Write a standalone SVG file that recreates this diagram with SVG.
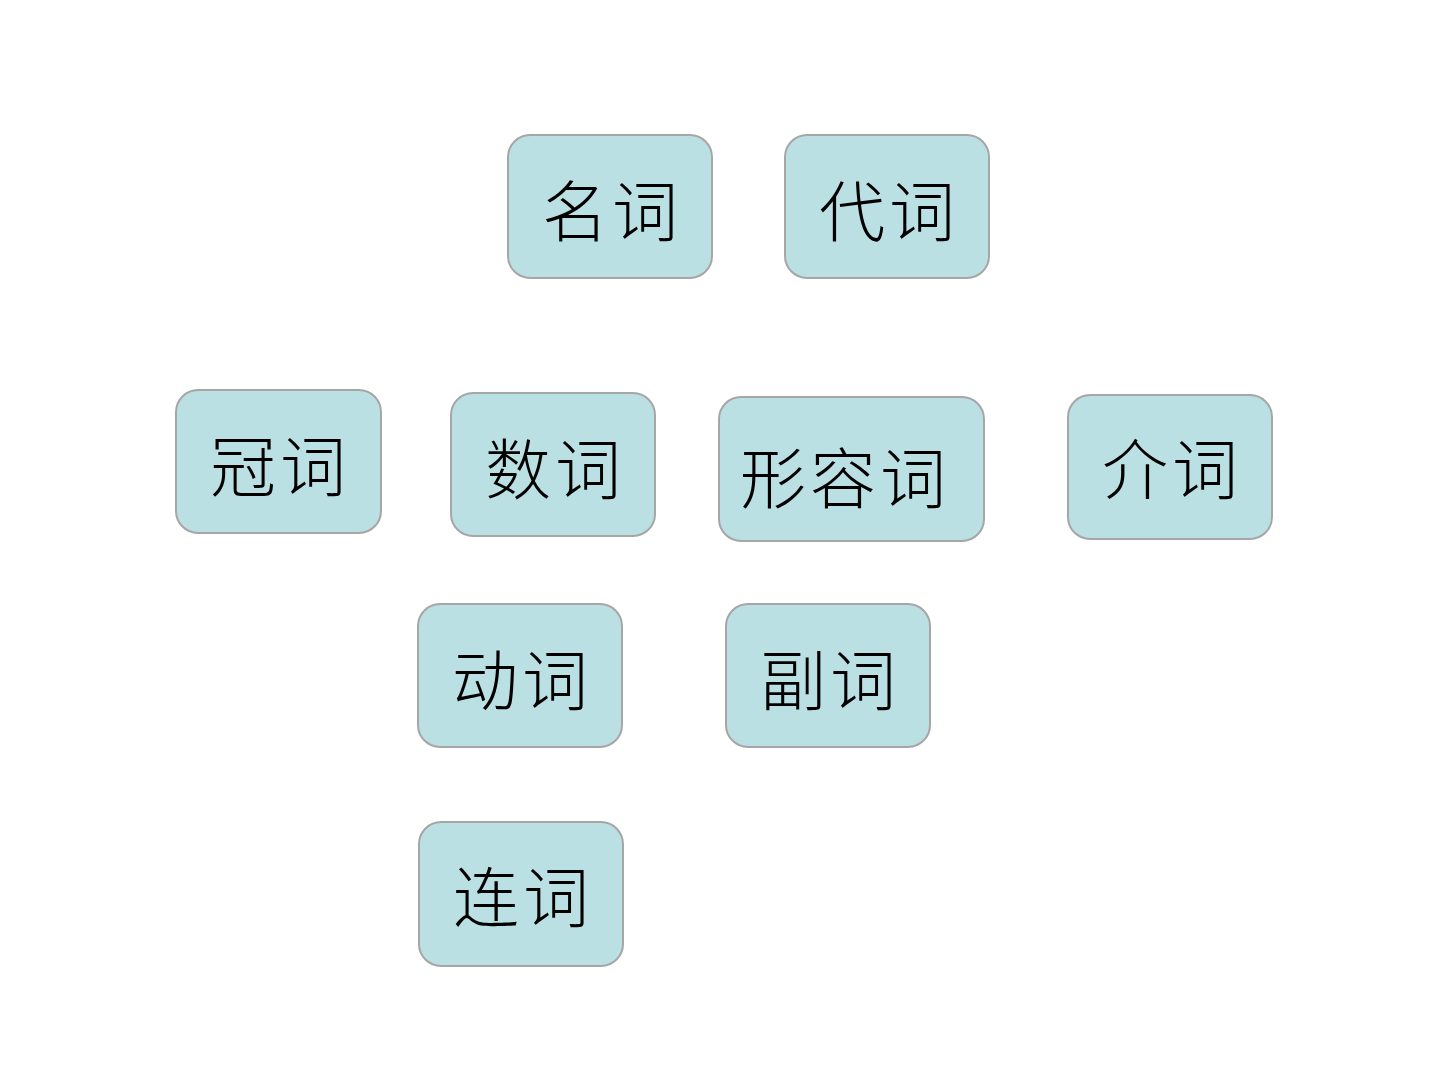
<svg xmlns="http://www.w3.org/2000/svg" width="1440" height="1080" viewBox="0 0 1440 1080">
<style>
.box{fill:#BBE0E3;stroke:#A6A6A6;stroke-width:2}
.lbl{font-family:"Noto Sans CJK SC","Noto Sans CJK JP",sans-serif;font-size:66px;font-weight:300;fill:#000;text-anchor:middle;letter-spacing:4px}
</style>
<rect width="1440" height="1080" fill="#FFFFFF"/>
<g id="connectors"></g>
<g id="n-mingci"><rect class="box" x="508" y="135" width="204" height="143" rx="22"/><text class="lbl" x="612" y="236">名词</text></g>
<g id="n-daici"><rect class="box" x="785" y="135" width="204" height="143" rx="22"/><text class="lbl" x="889" y="236">代词</text></g>
<g id="n-guanci"><rect class="box" x="176" y="390" width="205" height="143" rx="22"/><text class="lbl" x="280" y="491">冠词</text></g>
<g id="n-shuci"><rect class="box" x="451" y="393" width="204" height="143" rx="22"/><text class="lbl" x="555" y="494">数词</text></g>
<g id="n-xingrongci"><rect class="box" x="719" y="397" width="265" height="144" rx="22"/><text class="lbl" x="845" y="503">形容词</text></g>
<g id="n-jieci"><rect class="box" x="1068" y="395" width="204" height="144" rx="22"/><text class="lbl" x="1172" y="494">介词</text></g>
<g id="n-dongci"><rect class="box" x="418" y="604" width="204" height="143" rx="22"/><text class="lbl" x="522" y="705">动词</text></g>
<g id="n-fuci"><rect class="box" x="726" y="604" width="204" height="143" rx="22"/><text class="lbl" x="830" y="705">副词</text></g>
<g id="n-lianci"><rect class="box" x="419" y="822" width="204" height="144" rx="22"/><text class="lbl" x="523" y="922">连词</text></g>
</svg>
